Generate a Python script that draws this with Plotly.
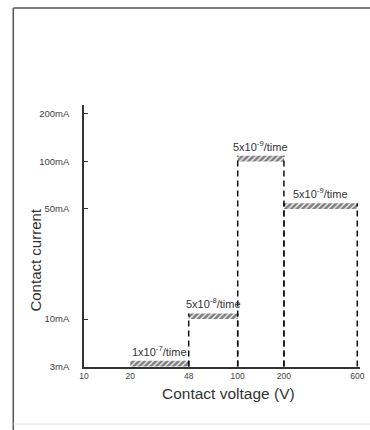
import numpy as np
import plotly.graph_objects as go

# ---- data ----
band_v_start = [20, 48, 100, 200]          # contact voltage (V)
band_v_end = [48, 100, 200, 600]
band_current = [3, 10, 100, 50]            # contact current (mA)
band_labels = ["1x10<sup>-7</sup>/time", "5x10<sup>-8</sup>/time",
               "5x10<sup>-9</sup>/time", "5x10<sup>-9</sup>/time"]
y_tick_values = [3, 10, 50, 100, 200]
y_tick_labels = ["3mA", "10mA", "50mA", "100mA", "200mA"]
x_tick_values = [10, 20, 48, 100, 200, 600]
x_tick_labels = ["10", "20", "48", "100", "200", "600"]

# broken log scale for the current axis (compressed below 10 mA)
LOW_SCALE = 0.575
def ymap(v):
    lv = np.log10(v)
    return lv if lv >= 1 else 1 - (1 - lv) * LOW_SCALE

BAR_H = 0.036  # hatched bar thickness (axis units)
TXT = "#333333"
FONT = "Liberation Sans, Arial, sans-serif"

fig = go.Figure()

# dashed verticals
for i, (x0, x1, c) in enumerate(zip(band_v_start, band_v_end, band_current)):
    yb = ymap(c)
    ys_bottom = ymap(3)
    if i > 0:
        fig.add_trace(go.Scatter(x=[x0, x0], y=[ys_bottom, yb + BAR_H], mode="lines",
                                 line=dict(color="#111", width=1.5, dash="6px,4px"),
                                 hoverinfo="skip", showlegend=False))
    fig.add_trace(go.Scatter(x=[x1, x1], y=[ys_bottom, yb + BAR_H], mode="lines",
                             line=dict(color="#111", width=1.5, dash="6px,4px"),
                             hoverinfo="skip", showlegend=False))

# hatched bars
for x0, x1, c, lab in zip(band_v_start, band_v_end, band_current, band_labels):
    yb = ymap(c)
    fig.add_trace(go.Scatter(x=[x0, x1, x1, x0, x0], y=[yb, yb, yb + BAR_H, yb + BAR_H, yb],
                             mode="lines", fill="toself", fillcolor="rgba(0,0,0,0)",
                             fillpattern=dict(shape="/", fgcolor="#000", size=4, solidity=0.7),
                             line=dict(width=0, color="rgba(0,0,0,0)"),
                             hoverinfo="skip", showlegend=False))
    fig.add_annotation(x=np.log10(np.sqrt(x0 * x1)), y=yb + BAR_H, text=lab, showarrow=False,
                       yanchor="bottom", yshift=1, font=dict(size=11, color=TXT, family=FONT))

fig.update_xaxes(type="log", range=[1, np.log10(625)], showline=True, linecolor="#333",
                 linewidth=1.5, ticks="", tickvals=x_tick_values, ticktext=x_tick_labels,
                 tickfont=dict(size=8.5, color="#444", family=FONT), showgrid=False, zeroline=False)
fig.update_yaxes(range=[ymap(3) - 0.003, 2.358], showline=True, linecolor="#333", linewidth=1.5,
                 ticks="inside", ticklen=4, tickwidth=1.2, tickcolor="#333",
                 tickvals=[ymap(v) for v in y_tick_values], ticktext=y_tick_labels,
                 ticklabelstandoff=11,
                 tickfont=dict(size=9.5, color="#444", family=FONT), showgrid=False, zeroline=False)

fig.add_annotation(xref="paper", yref="paper", x=-0.174, y=0.410, text="Contact current",
                   textangle=-90, showarrow=False, xanchor="center", yanchor="middle",
                   font=dict(size=15, color=TXT, family=FONT))
fig.add_annotation(xref="paper", yref="paper", x=0.525, y=-0.103, text="Contact voltage (V)",
                   showarrow=False, xanchor="center", yanchor="middle",
                   font=dict(size=15.5, color=TXT, family=FONT))

# frame
fig.add_shape(type="line", xref="paper", yref="paper", x0=-0.2562, x1=1.05, y0=1.37, y1=1.37,
              line=dict(color="#555", width=1.5))
fig.add_shape(type="line", xref="paper", yref="paper", x0=-0.2562, x1=-0.2562, y0=1.37, y1=-0.3,
              line=dict(color="#555", width=1.5))
fig.add_shape(type="line", xref="paper", yref="paper", x0=-0.2562, x1=1.05, y0=-0.2176, y1=-0.2176,
              line=dict(color="#e6e6e6", width=1))

fig.update_layout(width=370, height=430, margin=dict(l=84, r=5, t=105, b=63),
                  paper_bgcolor="white", plot_bgcolor="white", showlegend=False)

# remove the default 8px page margin so the figure fills the window exactly
fig.write_html("out.html", config={"displayModeBar": False},
               post_script="document.body.style.margin='0';document.body.style.overflow='hidden';")
